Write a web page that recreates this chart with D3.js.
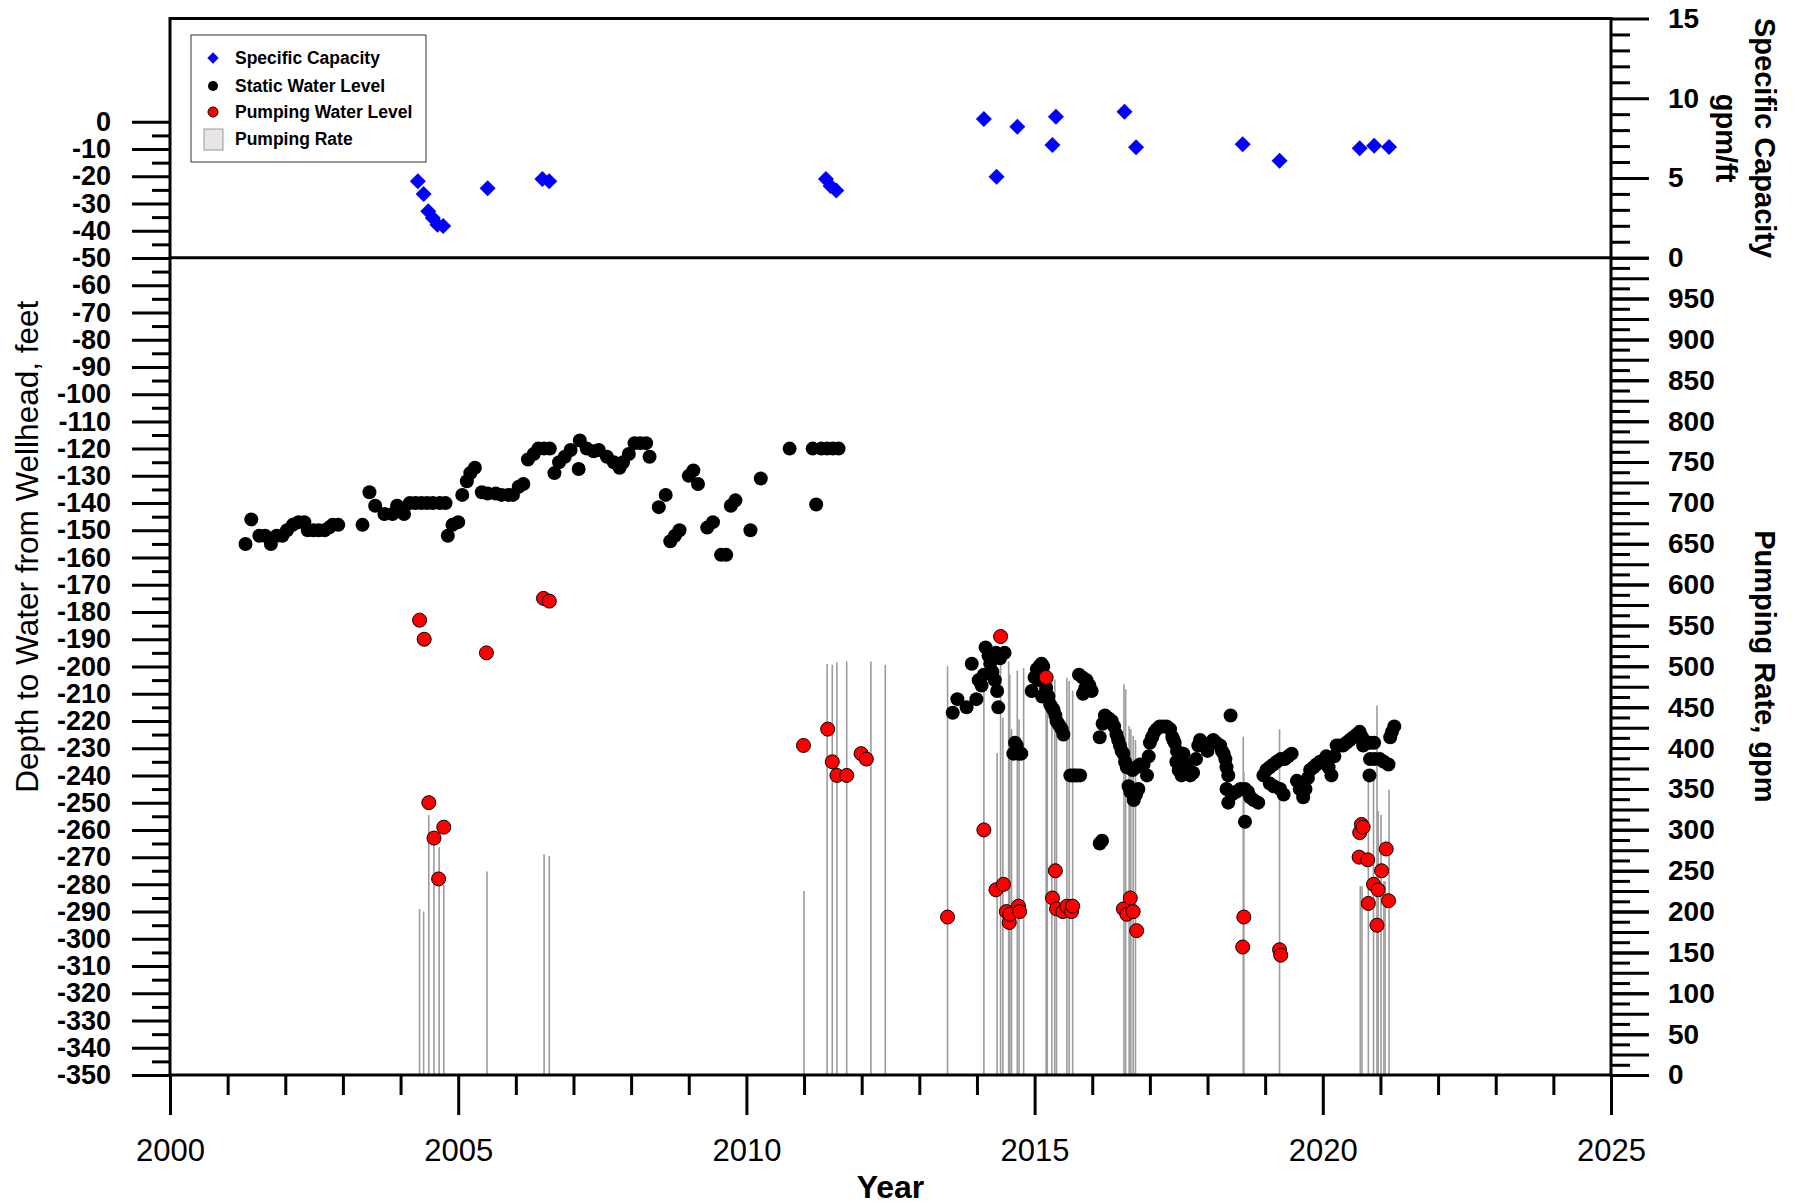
<!DOCTYPE html>
<html>
<head>
<meta charset="utf-8">
<script src="https://cdn.jsdelivr.net/npm/d3@7"></script>
<style>
  body { margin: 0; background: #fff; }
  svg { font-family: "Liberation Sans", Arial, sans-serif; }
</style>
</head>
<body>
<svg id="mainsvg" width="1799" height="1204"></svg>
<script>
// [decimal year, depth ft]
const staticLevel = [
  [2001.31,-155],[2001.41,-146],[2001.55,-152],[2001.65,-152],[2001.75,-155],[2001.85,-152],[2001.95,-152],
  [2002.03,-150],[2002.13,-148],[2002.23,-147],[2002.33,-147],[2002.39,-150],[2002.49,-150],[2002.58,-150],
  [2002.68,-150],[2002.76,-149],[2002.82,-148],[2002.92,-148],[2003.34,-148],[2003.46,-136],[2003.56,-141],
  [2003.72,-144],[2003.86,-144],[2003.94,-141],[2004.06,-144],[2004.16,-140],[2004.26,-140],[2004.36,-140],
  [2004.46,-140],[2004.56,-140],[2004.68,-140],[2004.78,-140],[2004.82,-152],[2004.90,-148],[2005.00,-147],
  [2005.07,-137],[2005.15,-132],[2005.21,-129],[2005.29,-127],[2005.41,-136],[2005.51,-136.5],[2005.65,-136.5],
  [2005.75,-137],[2005.87,-137],[2005.95,-137],[2006.05,-134],[2006.13,-133],[2006.21,-124],[2006.31,-122],
  [2006.39,-120],[2006.49,-120],[2006.59,-120],[2006.67,-129],[2006.75,-125],[2006.85,-123],[2006.95,-120.5],
  [2007.09,-127.5],[2007.11,-117],[2007.23,-120],[2007.35,-121],[2007.44,-120.5],[2007.58,-123],[2007.70,-125],
  [2007.80,-127],[2007.86,-125],[2007.96,-122],[2008.06,-118],[2008.16,-118],[2008.26,-118],[2008.32,-123],
  [2008.48,-141.5],[2008.60,-137],[2008.68,-154],[2008.76,-152],[2008.84,-150],[2009.00,-130],[2009.08,-128],
  [2009.16,-133],[2009.32,-149],[2009.42,-147],[2009.56,-159],[2009.65,-159],[2009.73,-141],[2009.81,-139],
  [2010.07,-150],[2010.25,-131],[2010.75,-120],[2011.15,-120],[2011.21,-140.5],[2011.30,-120],[2011.40,-120],
  [2011.50,-120],[2011.60,-120],
  [2013.58,-217],[2013.66,-212],[2013.82,-215],[2013.91,-199],[2013.99,-212],[2014.03,-205],[2014.08,-207],
  [2014.12,-203],[2014.15,-193],[2014.20,-196],[2014.23,-199],[2014.27,-202],[2014.31,-205],[2014.33,-195],
  [2014.35,-209],[2014.37,-215],[2014.40,-197],[2014.48,-195],[2014.63,-232],[2014.66,-228],[2014.69,-229],
  [2014.72,-232],[2014.77,-232],[2014.95,-209],[2015.00,-204],[2015.04,-201],[2015.08,-200],[2015.12,-199],
  [2015.15,-200],[2015.07,-205],[2015.13,-211],[2015.20,-208],[2015.24,-211],[2015.27,-214],[2015.30,-215],
  [2015.33,-216],[2015.36,-218],[2015.38,-220],[2015.41,-221],[2015.44,-222],[2015.47,-223],[2015.50,-225],
  [2015.62,-240],[2015.66,-240],[2015.70,-240],[2015.74,-240],[2015.79,-240],[2015.77,-203],[2015.83,-204],
  [2015.90,-205],[2015.95,-207],[2015.99,-209],[2015.84,-210],[2015.88,-208],[2016.13,-265],[2016.17,-264],
  [2016.13,-226],[2016.18,-221],[2016.22,-218],[2016.28,-219],[2016.34,-220],[2016.38,-222],[2016.42,-225],
  [2016.45,-227],[2016.48,-229],[2016.51,-231],[2016.54,-232],[2016.57,-235],[2016.60,-237],[2016.63,-244],
  [2016.66,-246],[2016.72,-249],[2016.76,-247],[2016.80,-245],[2016.70,-238],[2016.76,-237],[2016.83,-236],
  [2016.89,-236],[2016.95,-240],[2016.98,-233],[2017.00,-228],[2017.04,-226],[2017.08,-224],[2017.12,-223],
  [2017.17,-222],[2017.23,-222],[2017.29,-222],[2017.35,-223],[2017.39,-226],[2017.43,-228],[2017.47,-231],
  [2017.52,-234],[2017.58,-236],[2017.64,-237],[2017.41,-227],[2017.46,-235],[2017.50,-238],[2017.55,-240],
  [2017.58,-232],[2017.62,-236],[2017.66,-238],[2017.70,-240],[2017.75,-239],[2017.80,-234],[2017.84,-229],
  [2017.87,-227],[2017.91,-228],[2017.95,-229],[2018.00,-231],[2018.05,-228],[2018.10,-227],[2018.15,-228],
  [2018.22,-229],[2018.25,-231],[2018.28,-232],[2018.31,-234],[2018.33,-237],[2018.36,-240],[2018.40,-218],
  [2018.33,-245],[2018.36,-250],[2018.42,-247],[2018.50,-246],[2018.57,-245],[2018.65,-245],[2018.70,-246],
  [2018.74,-248],[2018.80,-249],[2018.88,-250],[2018.65,-257],[2018.97,-240],[2019.02,-238],[2019.08,-237],
  [2019.14,-236],[2019.20,-235],[2019.27,-234],[2019.34,-234],[2019.40,-233],[2019.46,-232],[2019.08,-243],
  [2019.15,-244],[2019.26,-245],[2019.32,-247],[2019.55,-242],[2019.60,-245],[2019.66,-248],[2019.70,-245],
  [2019.74,-241],[2019.78,-238],[2019.84,-237],[2019.89,-236],[2019.95,-235],[2020.00,-235],[2020.06,-233],
  [2020.10,-237],[2020.15,-240],[2020.20,-233],[2020.24,-229],[2020.30,-229],[2020.35,-229],[2020.41,-228],
  [2020.47,-227],[2020.53,-226],[2020.59,-225],[2020.64,-224],[2020.68,-226],[2020.70,-229],[2020.76,-228],
  [2020.82,-228],[2020.89,-228],[2020.82,-234],[2020.90,-234],[2020.99,-234],[2021.06,-235],[2021.14,-236],
  [2020.81,-240],[2021.17,-226],[2021.20,-224],[2021.24,-222]
];

const pumpingLevel = [
  [2004.33,-183],[2004.41,-190],[2004.49,-250],[2004.58,-263],[2004.66,-278],[2004.75,-259],[2005.49,-195],
  [2006.48,-175],[2006.58,-176],[2010.99,-229],[2011.41,-223],[2011.49,-235],[2011.57,-240],[2011.74,-240],
  [2011.99,-232],[2012.08,-234],[2013.49,-292],[2014.12,-260],[2014.33,-282],[2014.41,-189],[2014.46,-280],
  [2014.51,-290],[2014.56,-294],[2014.57,-291],[2014.72,-288],[2014.74,-290],[2015.20,-204],[2015.31,-285],
  [2015.36,-275],[2015.38,-289],[2015.49,-290],[2015.56,-288],[2015.64,-290],[2015.66,-288],[2016.54,-289],
  [2016.60,-291],[2016.66,-285],[2016.71,-290],[2016.77,-297],[2018.61,-303],[2018.63,-292],[2019.25,-304],
  [2019.27,-306],[2020.63,-270],[2020.64,-261],[2020.67,-258],[2020.70,-259],[2020.78,-271],[2020.79,-287],
  [2020.88,-280],[2020.94,-295],[2020.96,-282],[2021.02,-275],[2021.10,-267],[2021.14,-286]
];

// [decimal year, gpm/ft]
const specificCapacity = [
  [2004.30,4.79],[2004.40,4.0],[2004.48,2.92],[2004.56,2.49],[2004.64,2.06],[2004.74,1.99],[2005.51,4.36],
  [2006.46,4.93],[2006.58,4.79],[2011.38,4.93],[2011.46,4.5],[2011.56,4.21],[2014.12,8.70],[2014.34,5.08],
  [2014.70,8.21],[2015.31,7.07],[2015.37,8.84],[2016.56,9.15],[2016.76,6.92],[2018.61,7.11],[2019.25,6.08],
  [2020.64,6.86],[2020.89,7.02],[2021.15,6.94]
];

// [decimal year, gpm]
const pumpingRate = [
  [2004.33,203],[2004.40,200],[2004.49,318],[2004.58,282],[2004.67,279],[2004.75,233],[2005.50,249],
  [2006.49,270],[2006.58,268],[2011.00,225],[2011.40,503],[2011.49,502],[2011.57,505],[2011.74,506],
  [2012.16,506],[2012.41,502],[2013.49,500],[2014.12,485],[2014.35,394],[2014.41,505],[2014.45,437],
  [2014.55,506],[2014.57,490],[2014.60,423],[2014.70,495],[2014.73,435],[2014.81,498],[2015.20,480],
  [2015.22,500],[2015.30,485],[2015.35,484],[2015.38,437],[2015.56,486],[2015.60,482],[2015.66,470],
  [2016.55,478],[2016.58,472],[2016.64,427],[2016.67,423],[2016.71,415],[2016.75,410],[2018.62,414],
  [2018.63,371],[2019.25,423],[2020.65,231],[2020.68,231],[2020.79,361],[2020.88,370],[2020.94,452],
  [2020.96,323],[2021.01,318],[2021.06,237],[2021.08,237],[2021.15,349]
];

const depthTicks = d3.range(0, -351, -10);
const depthMinor = d3.range(-5, -350, -10);
const capacityTicks = [0, 5, 10, 15];
const capacityMinor = d3.range(1, 15).filter(d => d % 5 !== 0);
const rateLabels = d3.range(0, 951, 50);
const rateLong = d3.range(0, 1001, 25);
const rateShort = d3.range(12.5, 1000, 25);
const yearTicks = d3.range(2000, 2026, 5);
const yearMinor = d3.range(2001, 2025).filter(d => d % 5 !== 0);

const legendItems = ['Specific Capacity', 'Static Water Level', 'Pumping Water Level', 'Pumping Rate'];

const svg = d3.select('#mainsvg');
const plotLeft = 170, plotRight = 1611, plotTop = 18.5, plotBottom = 1075, split = 257.7;

const xScale = d3.scaleLinear().domain([2000, 2025]).range([plotLeft, plotRight]);
const yDepth = d3.scaleLinear().domain([0, -350]).range([121.8, plotBottom]);
const yCap = d3.scaleLinear().domain([0, 15]).range([split, plotTop]);
const yRate = d3.scaleLinear().domain([0, 1000]).range([plotBottom, split]);

// pumping rate bars
svg.append('g').selectAll('line')
  .data(pumpingRate).join('line')
  .attr('x1', d => xScale(d[0])).attr('x2', d => xScale(d[0]))
  .attr('y1', yRate(0)).attr('y2', d => yRate(d[1]))
  .attr('stroke', '#9c9c9c').attr('stroke-width', 1.6);

svg.append('g').selectAll('circle')
  .data(staticLevel).join('circle')
  .attr('cx', d => xScale(d[0])).attr('cy', d => yDepth(d[1]))
  .attr('r', 7).attr('fill', '#000');

svg.append('g').selectAll('circle')
  .data(pumpingLevel).join('circle')
  .attr('cx', d => xScale(d[0])).attr('cy', d => yDepth(d[1]))
  .attr('r', 7).attr('fill', '#ff0000').attr('stroke', '#000').attr('stroke-width', 1);

const diamond = d3.symbol().type(d3.symbolSquare).size(128);
svg.append('g').selectAll('path')
  .data(specificCapacity).join('path')
  .attr('d', diamond)
  .attr('transform', d => `translate(${xScale(d[0])},${yCap(d[1])}) rotate(45)`)
  .attr('fill', '#0000ff');

// frame
svg.append('rect')
  .attr('x', plotLeft).attr('y', plotTop)
  .attr('width', plotRight - plotLeft).attr('height', plotBottom - plotTop)
  .attr('fill', 'none').attr('stroke', '#000').attr('stroke-width', 3);
svg.append('line')
  .attr('x1', plotLeft).attr('x2', plotRight).attr('y1', split).attr('y2', split)
  .attr('stroke', '#000').attr('stroke-width', 3);

const styleAxis = (g, size) => {
  g.select('.domain').remove();
  g.selectAll('.tick line').attr('stroke', '#000').attr('stroke-width', 3);
  g.selectAll('.tick text').attr('fill', '#000').style('font-size', size);
};

// left axis
svg.append('g').attr('transform', `translate(${plotLeft},0)`)
  .call(d3.axisLeft(yDepth).tickValues(depthTicks).tickSize(38).tickPadding(21).tickFormat(d => String(d)))
  .call(g => styleAxis(g, '27px'))
  .call(g => g.selectAll('.tick text').style('font-weight', 'bold'));
svg.append('g').attr('transform', `translate(${plotLeft},0)`)
  .call(d3.axisLeft(yDepth).tickValues(depthMinor).tickSize(18).tickFormat(''))
  .call(g => styleAxis(g, '27px'));

// right upper axis
svg.append('g').attr('transform', `translate(${plotRight},0)`)
  .call(d3.axisRight(yCap).tickValues(capacityTicks).tickSize(38).tickPadding(19).tickFormat(d => String(d)))
  .call(g => styleAxis(g, '28px'))
  .call(g => g.selectAll('.tick text').style('font-weight', 'bold'));
svg.append('g').attr('transform', `translate(${plotRight},0)`)
  .call(d3.axisRight(yCap).tickValues(capacityMinor).tickSize(19).tickFormat(''))
  .call(g => styleAxis(g, '28px'));

// right lower axis
svg.append('g').attr('transform', `translate(${plotRight},0)`)
  .call(d3.axisRight(yRate).tickValues(rateLong).tickSize(38).tickFormat(''))
  .call(g => styleAxis(g, '28px'));
svg.append('g').attr('transform', `translate(${plotRight},0)`)
  .call(d3.axisRight(yRate).tickValues(rateShort).tickSize(19).tickFormat(''))
  .call(g => styleAxis(g, '28px'));
svg.append('g').attr('transform', `translate(${plotRight},0)`)
  .call(d3.axisRight(yRate).tickValues(rateLabels).tickSize(38).tickPadding(19).tickFormat(d => String(d)))
  .call(g => styleAxis(g, '28px'))
  .call(g => g.selectAll('.tick text').style('font-weight', 'bold'));

// bottom axis
svg.append('g').attr('transform', `translate(0,${plotBottom})`)
  .call(d3.axisBottom(xScale).tickValues(yearTicks).tickSize(40).tickPadding(24).tickFormat(d => String(d)))
  .call(g => styleAxis(g, '31px'));
svg.append('g').attr('transform', `translate(0,${plotBottom})`)
  .call(d3.axisBottom(xScale).tickValues(yearMinor).tickSize(20).tickFormat(''))
  .call(g => styleAxis(g, '31px'));

// titles
svg.append('text').text('Year')
  .attr('x', (plotLeft + plotRight) / 2).attr('y', 1198)
  .attr('text-anchor', 'middle')
  .style('font-size', '32px').style('font-weight', 'bold');

svg.append('text').text('Depth to Water from Wellhead, feet')
  .attr('transform', `translate(27, ${(plotTop + plotBottom) / 2}) rotate(-90)`)
  .attr('text-anchor', 'middle').attr('dominant-baseline', 'central')
  .style('font-size', '31.5px');

svg.append('text').text('Specific Capacity')
  .attr('transform', `translate(1765, ${(plotTop + split) / 2}) rotate(90)`)
  .attr('text-anchor', 'middle').attr('dominant-baseline', 'central')
  .style('font-size', '29px').style('font-weight', 'bold');
svg.append('text').text('gpm/ft')
  .attr('transform', `translate(1726, ${(plotTop + split) / 2}) rotate(90)`)
  .attr('text-anchor', 'middle').attr('dominant-baseline', 'central')
  .style('font-size', '29px').style('font-weight', 'bold');
svg.append('text').text('Pumping Rate, gpm')
  .attr('transform', `translate(1765, ${(split + plotBottom) / 2}) rotate(90)`)
  .attr('text-anchor', 'middle').attr('dominant-baseline', 'central')
  .style('font-size', '29px').style('font-weight', 'bold');

// legend
const legend = svg.append('g');
legend.append('rect')
  .attr('x', 191).attr('y', 35).attr('width', 235).attr('height', 127)
  .attr('fill', '#fff').attr('stroke', '#333').attr('stroke-width', 1);
const rowY = [58, 86, 112, 139];
legend.append('path')
  .attr('d', d3.symbol().type(d3.symbolSquare).size(64))
  .attr('transform', `translate(213,${rowY[0]}) rotate(45)`)
  .attr('fill', '#0000ff');
legend.append('circle').attr('cx', 213).attr('cy', rowY[1]).attr('r', 5).attr('fill', '#000');
legend.append('circle').attr('cx', 213).attr('cy', rowY[2]).attr('r', 5)
  .attr('fill', '#ff0000').attr('stroke', '#000').attr('stroke-width', 1);
legend.append('rect').attr('x', 204).attr('y', 129).attr('width', 19).attr('height', 21)
  .attr('fill', '#e6e6e6').attr('stroke', '#999').attr('stroke-width', 1);
legend.selectAll('text.item')
  .data(legendItems).join('text')
  .attr('class', 'item')
  .attr('x', 235).attr('y', (d, i) => rowY[i])
  .attr('dominant-baseline', 'central')
  .style('font-size', '17.5px').style('font-weight', 'bold')
  .text(d => d);
</script>
</body>
</html>
